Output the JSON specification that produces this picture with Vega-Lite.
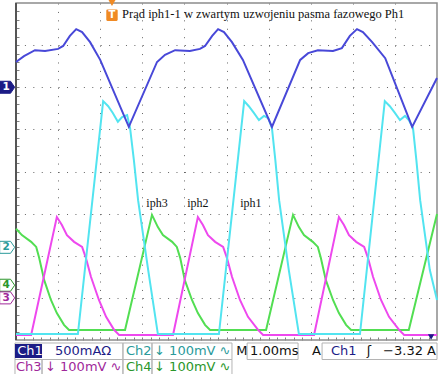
{
  "$schema": "https://vega.github.io/schema/vega-lite/v6.json",
  "width": 421,
  "height": 337,
  "autosize": {"type": "none"},
  "padding": {"left": 16, "top": 3, "right": 5, "bottom": 34},
  "background": "white",
  "config": {"view": {"stroke": null}},
  "datasets": {
    "frame": [{"x": 0, "x2": 10, "y": 0, "y2": 8}],
    "leftedge": [{"x": 0, "y": 0, "y2": 8}],
    "traces": [
      {"ch": "Ch4", "x": 0, "y": 2.64}, {"ch": "Ch4", "x": 0.14, "y": 2.49}, {"ch": "Ch4", "x": 0.36, "y": 2.33}, {"ch": "Ch4", "x": 0.48, "y": 2.21}, {"ch": "Ch4", "x": 0.55, "y": 1.95}, {"ch": "Ch4", "x": 0.67, "y": 1.42}, {"ch": "Ch4", "x": 0.83, "y": 0.95}, {"ch": "Ch4", "x": 0.97, "y": 0.64}, {"ch": "Ch4", "x": 1.14, "y": 0.36}, {"ch": "Ch4", "x": 1.26, "y": 0.24}, {"ch": "Ch4", "x": 2.59, "y": 0.24}, {"ch": "Ch4", "x": 3.23, "y": 2.97}, {"ch": "Ch4", "x": 3.37, "y": 2.68}, {"ch": "Ch4", "x": 3.49, "y": 2.49}, {"ch": "Ch4", "x": 3.71, "y": 2.33}, {"ch": "Ch4", "x": 3.82, "y": 2.21}, {"ch": "Ch4", "x": 3.9, "y": 1.95}, {"ch": "Ch4", "x": 4.01, "y": 1.42}, {"ch": "Ch4", "x": 4.18, "y": 0.95}, {"ch": "Ch4", "x": 4.32, "y": 0.64}, {"ch": "Ch4", "x": 4.49, "y": 0.36}, {"ch": "Ch4", "x": 4.61, "y": 0.24}, {"ch": "Ch4", "x": 5.94, "y": 0.24}, {"ch": "Ch4", "x": 6.58, "y": 2.97}, {"ch": "Ch4", "x": 6.72, "y": 2.68}, {"ch": "Ch4", "x": 6.84, "y": 2.49}, {"ch": "Ch4", "x": 7.05, "y": 2.33}, {"ch": "Ch4", "x": 7.17, "y": 2.21}, {"ch": "Ch4", "x": 7.24, "y": 1.95}, {"ch": "Ch4", "x": 7.36, "y": 1.42}, {"ch": "Ch4", "x": 7.53, "y": 0.95}, {"ch": "Ch4", "x": 7.67, "y": 0.64}, {"ch": "Ch4", "x": 7.84, "y": 0.36}, {"ch": "Ch4", "x": 7.96, "y": 0.24}, {"ch": "Ch4", "x": 9.33, "y": 0.24}, {"ch": "Ch4", "x": 10.0, "y": 2.99},
      {"ch": "Ch3", "x": 0, "y": 0.12}, {"ch": "Ch3", "x": 0.36, "y": 0.12}, {"ch": "Ch3", "x": 0.97, "y": 2.92}, {"ch": "Ch3", "x": 1.09, "y": 2.73}, {"ch": "Ch3", "x": 1.21, "y": 2.49}, {"ch": "Ch3", "x": 1.38, "y": 2.33}, {"ch": "Ch3", "x": 1.57, "y": 2.21}, {"ch": "Ch3", "x": 1.66, "y": 1.95}, {"ch": "Ch3", "x": 1.78, "y": 1.5}, {"ch": "Ch3", "x": 1.97, "y": 0.95}, {"ch": "Ch3", "x": 2.14, "y": 0.55}, {"ch": "Ch3", "x": 2.33, "y": 0.24}, {"ch": "Ch3", "x": 2.45, "y": 0.12}, {"ch": "Ch3", "x": 3.73, "y": 0.12}, {"ch": "Ch3", "x": 4.32, "y": 2.92}, {"ch": "Ch3", "x": 4.44, "y": 2.73}, {"ch": "Ch3", "x": 4.56, "y": 2.49}, {"ch": "Ch3", "x": 4.73, "y": 2.33}, {"ch": "Ch3", "x": 4.92, "y": 2.21}, {"ch": "Ch3", "x": 5.01, "y": 1.95}, {"ch": "Ch3", "x": 5.13, "y": 1.5}, {"ch": "Ch3", "x": 5.32, "y": 0.95}, {"ch": "Ch3", "x": 5.51, "y": 0.55}, {"ch": "Ch3", "x": 5.75, "y": 0.24}, {"ch": "Ch3", "x": 5.87, "y": 0.12}, {"ch": "Ch3", "x": 7.08, "y": 0.12}, {"ch": "Ch3", "x": 7.67, "y": 2.92}, {"ch": "Ch3", "x": 7.79, "y": 2.73}, {"ch": "Ch3", "x": 7.91, "y": 2.49}, {"ch": "Ch3", "x": 8.08, "y": 2.33}, {"ch": "Ch3", "x": 8.27, "y": 2.21}, {"ch": "Ch3", "x": 8.36, "y": 1.95}, {"ch": "Ch3", "x": 8.48, "y": 1.5}, {"ch": "Ch3", "x": 8.67, "y": 0.95}, {"ch": "Ch3", "x": 8.86, "y": 0.55}, {"ch": "Ch3", "x": 9.1, "y": 0.24}, {"ch": "Ch3", "x": 9.22, "y": 0.12}, {"ch": "Ch3", "x": 10.0, "y": 0.12},
      {"ch": "Ch2", "x": 0, "y": 0.14}, {"ch": "Ch2", "x": 1.47, "y": 0.14}, {"ch": "Ch2", "x": 2.07, "y": 5.67}, {"ch": "Ch2", "x": 2.19, "y": 5.55}, {"ch": "Ch2", "x": 2.3, "y": 5.39}, {"ch": "Ch2", "x": 2.42, "y": 5.18}, {"ch": "Ch2", "x": 2.52, "y": 5.29}, {"ch": "Ch2", "x": 2.64, "y": 5.34}, {"ch": "Ch2", "x": 2.71, "y": 5.03}, {"ch": "Ch2", "x": 2.8, "y": 4.27}, {"ch": "Ch2", "x": 2.9, "y": 3.32}, {"ch": "Ch2", "x": 3.14, "y": 1.66}, {"ch": "Ch2", "x": 3.37, "y": 0.14}, {"ch": "Ch2", "x": 4.82, "y": 0.14}, {"ch": "Ch2", "x": 5.42, "y": 5.67}, {"ch": "Ch2", "x": 5.53, "y": 5.55}, {"ch": "Ch2", "x": 5.65, "y": 5.39}, {"ch": "Ch2", "x": 5.77, "y": 5.22}, {"ch": "Ch2", "x": 5.89, "y": 5.32}, {"ch": "Ch2", "x": 5.99, "y": 5.27}, {"ch": "Ch2", "x": 6.08, "y": 5.03}, {"ch": "Ch2", "x": 6.16, "y": 4.27}, {"ch": "Ch2", "x": 6.25, "y": 3.32}, {"ch": "Ch2", "x": 6.48, "y": 1.66}, {"ch": "Ch2", "x": 6.72, "y": 0.14}, {"ch": "Ch2", "x": 8.17, "y": 0.14}, {"ch": "Ch2", "x": 8.76, "y": 5.67}, {"ch": "Ch2", "x": 8.88, "y": 5.55}, {"ch": "Ch2", "x": 9.0, "y": 5.39}, {"ch": "Ch2", "x": 9.12, "y": 5.22}, {"ch": "Ch2", "x": 9.24, "y": 5.32}, {"ch": "Ch2", "x": 9.33, "y": 5.22}, {"ch": "Ch2", "x": 9.43, "y": 5.03}, {"ch": "Ch2", "x": 9.51, "y": 4.27}, {"ch": "Ch2", "x": 9.6, "y": 3.32}, {"ch": "Ch2", "x": 9.83, "y": 1.66}, {"ch": "Ch2", "x": 10.0, "y": 0.95},
      {"ch": "Ch1", "x": 0, "y": 6.6}, {"ch": "Ch1", "x": 0.19, "y": 6.74}, {"ch": "Ch1", "x": 0.45, "y": 6.88}, {"ch": "Ch1", "x": 0.69, "y": 6.86}, {"ch": "Ch1", "x": 1.0, "y": 6.91}, {"ch": "Ch1", "x": 1.12, "y": 6.98}, {"ch": "Ch1", "x": 1.28, "y": 7.22}, {"ch": "Ch1", "x": 1.43, "y": 7.38}, {"ch": "Ch1", "x": 1.57, "y": 7.31}, {"ch": "Ch1", "x": 1.76, "y": 7.07}, {"ch": "Ch1", "x": 2.0, "y": 6.65}, {"ch": "Ch1", "x": 2.68, "y": 5.06}, {"ch": "Ch1", "x": 3.35, "y": 6.6}, {"ch": "Ch1", "x": 3.54, "y": 6.77}, {"ch": "Ch1", "x": 3.78, "y": 6.88}, {"ch": "Ch1", "x": 4.13, "y": 6.86}, {"ch": "Ch1", "x": 4.37, "y": 6.91}, {"ch": "Ch1", "x": 4.49, "y": 6.98}, {"ch": "Ch1", "x": 4.66, "y": 7.22}, {"ch": "Ch1", "x": 4.8, "y": 7.38}, {"ch": "Ch1", "x": 4.94, "y": 7.31}, {"ch": "Ch1", "x": 5.13, "y": 7.07}, {"ch": "Ch1", "x": 5.39, "y": 6.65}, {"ch": "Ch1", "x": 6.08, "y": 5.06}, {"ch": "Ch1", "x": 6.75, "y": 6.65}, {"ch": "Ch1", "x": 6.94, "y": 6.81}, {"ch": "Ch1", "x": 7.17, "y": 6.88}, {"ch": "Ch1", "x": 7.53, "y": 6.86}, {"ch": "Ch1", "x": 7.74, "y": 6.93}, {"ch": "Ch1", "x": 7.93, "y": 7.22}, {"ch": "Ch1", "x": 8.1, "y": 7.38}, {"ch": "Ch1", "x": 8.24, "y": 7.31}, {"ch": "Ch1", "x": 8.46, "y": 7.07}, {"ch": "Ch1", "x": 8.77, "y": 6.69}, {"ch": "Ch1", "x": 9.41, "y": 5.06}, {"ch": "Ch1", "x": 10.0, "y": 6.22}
    ],
    "boxes": [
      {"x": -0.024, "x2": 2.54, "y": -0.071, "y2": -0.463}, {"x": 2.54, "x2": 3.23, "y": -0.071, "y2": -0.463}, {"x": 3.23, "x2": 5.13, "y": -0.071, "y2": -0.463}, {"x": 5.49, "x2": 6.7, "y": -0.071, "y2": -0.463}, {"x": 7.27, "x2": 10.0, "y": -0.071, "y2": -0.463},
      {"x": -0.024, "x2": 0.618, "y": -0.463, "y2": -0.86}, {"x": 0.618, "x2": 2.54, "y": -0.463, "y2": -0.86}, {"x": 2.54, "x2": 3.23, "y": -0.463, "y2": -0.86}, {"x": 3.23, "x2": 5.13, "y": -0.463, "y2": -0.86}
    ],
    "navybox": [{"x": -0.024, "x2": 0.618, "y": -0.095, "y2": -0.427}],
    "status": [
      {"x": 0.03, "y": -0.26, "label": "Ch1", "c": "#ffffff"},
      {"x": 0.926, "y": -0.26, "label": "500mAΩ", "c": "#1c1c86"},
      {"x": 2.61, "y": -0.26, "label": "Ch2", "c": "#2a9a9a"},
      {"x": 3.28, "y": -0.26, "label": "↓ 100mV ∿", "c": "#2a9a9a"},
      {"x": 5.23, "y": -0.26, "label": "M", "c": "#111111"},
      {"x": 5.56, "y": -0.26, "label": "1.00ms", "c": "#111111"},
      {"x": 7.03, "y": -0.26, "label": "A", "c": "#111111"},
      {"x": 7.48, "y": -0.26, "label": "Ch1", "c": "#1c1c86"},
      {"x": 8.33, "y": -0.26, "label": "ʃ", "c": "#111111"},
      {"x": 8.72, "y": -0.26, "label": "−3.32 A", "c": "#111111"},
      {"x": 0.0, "y": -0.65, "label": "Ch3", "c": "#a0289a"},
      {"x": 0.69, "y": -0.65, "label": "↓ 100mV ∿", "c": "#a0289a"},
      {"x": 2.61, "y": -0.65, "label": "Ch4", "c": "#2a962a"},
      {"x": 3.28, "y": -0.65, "label": "↓ 100mV ∿", "c": "#2a962a"}
    ],
    "labels": [
      {"x": 3.35, "y": 3.26, "label": "iph3"},
      {"x": 4.32, "y": 3.26, "label": "iph2"},
      {"x": 5.58, "y": 3.26, "label": "iph1"}
    ],
    "title": [{"x": 2.52, "y": 7.74, "label": "Prąd iph1-1 w zwartym uzwojeniu pasma fazowego Ph1"}],
    "markers": [
      {"x": -0.21, "y": 6.0, "label": "1", "fill": "#1c1c86", "stroke": "#1c1c86", "tc": "#ffffff"},
      {"x": -0.21, "y": 2.2, "label": "2", "fill": "#ffffff", "stroke": "#2a9a9a", "tc": "#2a9a9a"},
      {"x": -0.21, "y": 1.3, "label": "4", "fill": "#ffffff", "stroke": "#2a962a", "tc": "#2a962a"},
      {"x": -0.21, "y": 1.0, "label": "3", "fill": "#ffffff", "stroke": "#a0289a", "tc": "#a0289a"}
    ],
    "trig": [{"x": 2.28, "y": 8.0}],
    "ticon": [{"x": 2.28, "y": 7.71, "label": "T"}],
    "endmark": [{"x": 9.86, "y": 0.07}]
  },
  "encoding": {
    "x": {"field": "x", "type": "quantitative", "scale": {"domain": [0, 10], "nice": false, "zero": false},
      "axis": {"orient": "bottom", "values": [0.2,0.4,0.6,0.8,1,1.2,1.4,1.6,1.8,2,2.2,2.4,2.6,2.8,3,3.2,3.4,3.6,3.8,4,4.2,4.4,4.6,4.8,5,5.2,5.4,5.6,5.8,6,6.2,6.4,6.6,6.8,7,7.2,7.4,7.6,7.8,8,8.2,8.4,8.6,8.8,9,9.2,9.4,9.6,9.8],
        "labels": false, "domain": false, "title": null, "tickSize": -3, "tickColor": "#808080", "tickWidth": 1,
        "grid": true, "gridColor": "#666666", "gridWidth": 1, "gridDash": [1, 7.425],
        "gridOpacity": {"condition": {"test": "abs(datum.value - round(datum.value)) < 0.001", "value": 1}, "value": 0}}},
    "y": {"field": "y", "type": "quantitative", "scale": {"domain": [0, 8], "nice": false, "zero": false},
      "axis": {"orient": "left", "values": [0.2,0.4,0.6,0.8,1,1.2,1.4,1.6,1.8,2,2.2,2.4,2.6,2.8,3,3.2,3.4,3.6,3.8,4,4.2,4.4,4.6,4.8,5,5.2,5.4,5.6,5.8,6,6.2,6.4,6.6,6.8,7,7.2,7.4,7.6,7.8],
        "labels": false, "domain": false, "title": null, "tickSize": -3, "tickColor": "#808080", "tickWidth": 1,
        "grid": true, "gridColor": "#666666", "gridWidth": 1, "gridDash": [1, 7.42],
        "gridOpacity": {"condition": {"test": "abs(datum.value - round(datum.value)) < 0.001", "value": 1}, "value": 0}}}
  },
  "layer": [
    {
      "data": {"name": "frame"},
      "mark": {"type": "rect", "fill": null, "stroke": "#8c8c8c", "strokeWidth": 1.5},
      "encoding": {"x2": {"field": "x2"}, "y2": {"field": "y2"}}
    },
    {
      "data": {"name": "leftedge"},
      "mark": {"type": "rule", "color": "#555555", "strokeWidth": 2},
      "encoding": {"y2": {"field": "y2"}}
    },
    {
      "data": {"name": "traces"},
      "mark": {"type": "line", "strokeWidth": 2, "interpolate": "linear"},
      "encoding": {
        "color": {"field": "ch", "type": "nominal", "scale": {"domain": ["Ch1", "Ch2", "Ch3", "Ch4"], "range": ["#4848d8", "#52e4f0", "#ee48ee", "#52de52"]}, "legend": null},
        "detail": {"field": "ch"}
      }
    },
    {
      "data": {"name": "labels"},
      "mark": {"type": "text", "font": "Liberation Serif", "fontSize": 12, "color": "#111111", "align": "center", "baseline": "middle"},
      "encoding": {"text": {"field": "label"}}
    },
    {
      "data": {"name": "title"},
      "mark": {"type": "text", "font": "Liberation Serif", "fontSize": 12.5, "color": "#111111", "align": "left", "baseline": "middle"},
      "encoding": {"text": {"field": "label"}}
    },
    {
      "data": {"name": "trig"},
      "mark": {"type": "point", "shape": "triangle-down", "size": 50, "filled": true, "color": "#f08a24", "opacity": 1}
    },
    {
      "data": {"name": "ticon"},
      "mark": {"type": "point", "shape": "M-0.8,-1L0.8,-1Q1,-1 1,-0.8L1,0.8Q1,1 0.8,1L-0.8,1Q-1,1 -1,0.8L-1,-0.8Q-1,-1 -0.8,-1Z", "size": 130, "filled": true, "color": "#f08a24", "opacity": 1}
    },
    {
      "data": {"name": "ticon"},
      "mark": {"type": "text", "font": "DejaVu Sans", "fontWeight": "bold", "fontSize": 10, "color": "#ffffff", "align": "center", "baseline": "middle"},
      "encoding": {"text": {"field": "label"}}
    },
    {
      "data": {"name": "endmark"},
      "mark": {"type": "point", "shape": "triangle-down", "size": 40, "filled": true, "color": "#1c1c86", "opacity": 1}
    },
    {
      "data": {"name": "markers"},
      "mark": {"type": "point", "shape": "M-1,-0.8L0.45,-0.8L1,0L0.45,0.8L-1,0.8Z", "size": 225, "filled": true, "strokeWidth": 1, "opacity": 1},
      "encoding": {
        "fill": {"field": "fill", "type": "nominal", "scale": null},
        "stroke": {"field": "stroke", "type": "nominal", "scale": null}
      }
    },
    {
      "data": {"name": "markers"},
      "mark": {"type": "text", "font": "DejaVu Sans", "fontSize": 10.5, "fontWeight": "bold", "align": "center", "baseline": "middle", "dx": -1},
      "encoding": {
        "text": {"field": "label"},
        "color": {"field": "tc", "type": "nominal", "scale": null}
      }
    },
    {
      "data": {"name": "boxes"},
      "mark": {"type": "rect", "fill": null, "stroke": "#b4b4b4", "strokeWidth": 1},
      "encoding": {"x2": {"field": "x2"}, "y2": {"field": "y2"}}
    },
    {
      "data": {"name": "navybox"},
      "mark": {"type": "rect", "fill": "#1c1c86"},
      "encoding": {"x2": {"field": "x2"}, "y2": {"field": "y2"}}
    },
    {
      "data": {"name": "status"},
      "mark": {"type": "text", "font": "DejaVu Sans", "fontSize": 13, "align": "left", "baseline": "middle"},
      "encoding": {
        "text": {"field": "label"},
        "color": {"field": "c", "type": "nominal", "scale": null}
      }
    }
  ]
}
